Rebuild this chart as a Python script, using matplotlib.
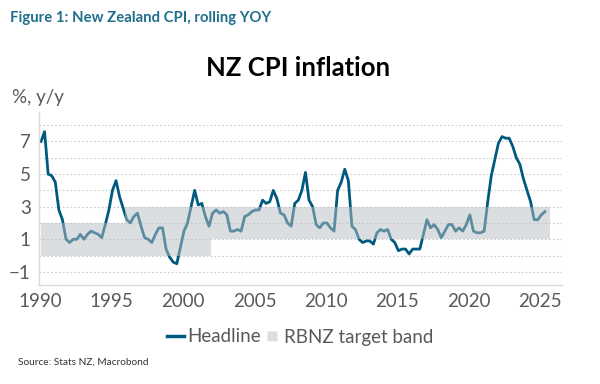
import matplotlib

matplotlib.use("Agg")
import matplotlib.pyplot as plt
import numpy as np
from matplotlib.lines import Line2D

# quarterly headline CPI, % y/y, 1990Q1 .. 2025Q2
headline = [
    7.0, 7.6, 5.0, 4.9,
    4.5, 2.8, 2.2, 1.0,
    0.8, 1.0, 1.0, 1.3,
    1.0, 1.3, 1.5, 1.4,
    1.3, 1.1, 1.9, 2.8,
    4.0, 4.6, 3.6, 2.9,
    2.2, 2.0, 2.4, 2.6,
    1.8, 1.1, 1.0, 0.8,
    1.3, 1.7, 1.7, 0.4,
    -0.1, -0.4, -0.5, 0.5,
    1.5, 2.0, 3.0, 4.0,
    3.1, 3.2, 2.4, 1.8,
    2.6, 2.8, 2.6, 2.7,
    2.5, 1.5, 1.5, 1.6,
    1.5, 2.4, 2.5, 2.7,
    2.8, 2.8, 3.4, 3.2,
    3.3, 4.0, 3.5, 2.6,
    2.5, 2.0, 1.8, 3.2,
    3.4, 4.0, 5.1, 3.4,
    3.0, 1.9, 1.7, 2.0,
    2.0, 1.7, 1.5, 4.0,
    4.5, 5.3, 4.6, 1.8,
    1.6, 1.0, 0.8, 0.9,
    0.9, 0.7, 1.4, 1.6,
    1.5, 1.6, 1.0, 0.8,
    0.3, 0.4, 0.4, 0.1,
    0.4, 0.4, 0.4, 1.3,
    2.2, 1.7, 1.9, 1.6,
    1.1, 1.5, 1.9, 1.9,
    1.5, 1.7, 1.5, 1.9,
    2.5, 1.5, 1.4, 1.4,
    1.5, 3.3, 4.9, 5.9,
    6.9, 7.3, 7.2, 7.2,
    6.7, 6.0, 5.6, 4.7,
    4.0, 3.3, 2.2, 2.2,
    2.5, 2.7,
]

# RBNZ target band regimes: (start, end, lower, upper)
band_start = [1990.05, 1995.95, 2001.95]
band_end = [1995.95, 2001.95, 2025.65]
band_lower = [0, 0, 1]
band_upper = [2, 3, 3]

LINE = "#005A7D"
BAND = "#B9BFC3"
TEXT = "#595959"
FONT = ["Lato", "DejaVu Sans"]

plt.rcParams["font.family"] = FONT

t = 1990.07 + np.arange(len(headline)) / 4.0

fig = plt.figure(figsize=(6, 3.84), dpi=100)
ax = fig.add_axes([0.065, 0.258, 0.872, 0.45])

ax.plot(t, headline, color=LINE, linewidth=2.0, zorder=2)
for i in range(len(band_start)):
    ax.fill_between(
        [band_start[i], band_end[i]], band_lower[i], band_upper[i],
        color=BAND, alpha=0.5, linewidth=0, zorder=3,
    )

ax.set_xlim(1989.93, 2026.53)
ax.set_ylim(-1.8, 8.8)
ax.set_xticks(range(1990, 2026, 5))
ax.set_yticks([-1, 1, 3, 5, 7])
ax.set_yticks(range(-1, 9), minor=True)
ax.grid(True, axis="y", which="both", color="#CCCCCC", linestyle=(0, (1.5, 2)), linewidth=0.8)
ax.tick_params(axis="both", which="both", length=0, labelsize=13.5, colors=TEXT)
ax.tick_params(axis="x", pad=6)
ax.tick_params(axis="y", pad=6)
for s in ["top", "right"]:
    ax.spines[s].set_visible(False)
for s in ["left", "bottom"]:
    ax.spines[s].set_color("#D9D9D9")
    ax.spines[s].set_linewidth(1.0)

handles = [
    Line2D([0], [0], color=LINE, linewidth=2.5),
    Line2D([0], [0], linestyle="none", marker="s", markersize=7,
           markerfacecolor="#DCDFE1", markeredgecolor="none"),
]
fig.legend(
    handles, ["Headline", "RBNZ target band"],
    loc="center", bbox_to_anchor=(0.5, 1 - 337 / 384), ncol=2, frameon=False,
    fontsize=13.5, labelcolor=TEXT, handlelength=0.9, handletextpad=0.2,
    columnspacing=0.1,
)

fig.text(10 / 600, 1 - 18 / 384, "Figure 1: New Zealand CPI, rolling YOY",
         fontsize=10.7, fontweight="bold", color="#1F6E8C", va="center", ha="left")
fig.text(0.497, 1 - 68 / 384, "NZ CPI inflation",
         fontsize=18.5, fontweight="bold", color="black", va="center", ha="center")
fig.text(12 / 600, 1 - 98 / 384, "%, y/y",
         fontsize=13.5, color=TEXT, va="center", ha="left")
fig.text(18 / 600, 1 - 362 / 384, "Source: Stats NZ, Macrobond",
         fontsize=7.3, color="#333333", va="center", ha="left")

fig.savefig("out.png", dpi=100)
